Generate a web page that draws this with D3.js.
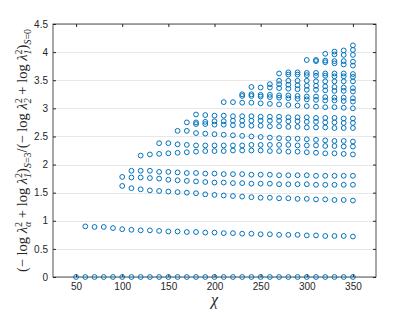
<!DOCTYPE html>
<html>
<head>
<meta charset="utf-8">
<script src="https://cdn.jsdelivr.net/npm/d3@7"></script>
<style>
  body { margin: 0; background: #fff; }
  svg { display: block; }
</style>
</head>
<body>
<svg id="chart" width="415" height="312"></svg>
<script>
// tick labels
var xTicks = [50, 100, 150, 200, 250, 300, 350];
var yTicks = [0, 0.5, 1, 1.5, 2, 2.5, 3, 3.5, 4, 4.5];

// each level: values every 10 in chi, beginning at its start chi
var lev0 = [0,0,0,0,0,0,0,0,0,0,0,0,0,0,0,0,0,0,0,0,0,0,0,0,0,0,0,0,0,0,0];
var lev1 = [0.90,0.89,0.89,0.87,0.85,0.84,0.83,0.83,0.82,0.81,0.81,0.80,0.80,0.79,0.79,
            0.78,0.78,0.77,0.77,0.76,0.76,0.75,0.75,0.75,0.74,0.74,0.73,0.73,0.73,0.72];
var levC = [1.62,1.58,1.56,1.54,1.53,1.52,1.51,1.50,1.49,1.47,1.46,1.45,1.44,1.43,1.42,
            1.41,1.41,1.40,1.40,1.39,1.39,1.38,1.38,1.37,1.37,1.36];
var levB = [1.78,1.77,1.77,1.76,1.75,1.73,1.72,1.71,1.70,1.69,1.68,1.68,1.67,1.67,1.66,
            1.66,1.66,1.65,1.65,1.65,1.65,1.64,1.64,1.64,1.64,1.64];
var levA = [1.89,1.89,1.89,1.87,1.87,1.86,1.85,1.85,1.84,1.84,1.83,1.83,1.83,1.82,1.82,
            1.82,1.81,1.81,1.81,1.81,1.80,1.80,1.80,1.80,1.80];
var levD = [2.16,2.18,2.19,2.20,2.21,2.22,2.23,2.24,2.24,2.24,2.25,2.25,2.25,2.25,2.24,
            2.24,2.23,2.23,2.22,2.21,2.20,2.20,2.19,2.18];
var levE = [2.38,2.38,2.36,2.35,2.34,2.34,2.34,2.34,2.34,2.34,2.35,2.35,2.35,2.35,2.35,
            2.34,2.34,2.34,2.33,2.33,2.32,2.32];
var levG = [2.60,2.60,2.56,2.55,2.54,2.53,2.52,2.51,2.50,2.49,2.48,2.47,2.46,2.46,2.45,
            2.44,2.43,2.42,2.42,2.41];
var levH = [2.75,2.75,2.76,2.77,2.77,2.78,2.78,2.78,2.78,2.78,2.78,2.77,2.77,2.76,2.76,
            2.75,2.75,2.74,2.74];
var levI = [2.72,2.72,2.71,2.71,2.70,2.70,2.69,2.69,2.68,2.68,2.67,2.67,2.66,2.66,2.66,
            2.65,2.65,2.65];
var levJ = [2.89,2.88,2.87,2.87,2.86,2.86,2.86,2.85,2.85,2.85,2.84,2.84,2.84,2.83,2.83,
            2.83,2.82,2.82];
var levK = [3.11,3.11,3.10,3.10,3.09,3.08,3.07,3.06,3.05,3.04,3.03,3.02,3.02,3.01,3.00];
var levL1 = [3.25,3.25,3.24,3.24,3.23,3.23,3.22,3.21,3.21,3.20,3.19,3.19,3.18];
var levL2 = [3.22,3.22,3.21,3.20,3.19,3.18,3.17,3.16,3.15,3.14,3.14,3.13,3.12];
var levM = [3.38,3.37,3.37,3.36,3.35,3.34,3.33,3.33,3.32,3.31,3.31,3.30];
var levN = [3.43,3.43,3.42,3.41,3.40,3.40,3.39,3.38,3.37,3.36];
var levO1 = [3.49,3.49,3.49,3.49,3.48,3.48,3.48,3.48,3.48];
var levO2 = [3.62,3.60,3.60,3.59,3.58,3.58,3.57,3.57,3.56];
var levP = [3.64,3.64,3.63,3.63,3.62,3.62,3.62,3.61];
var levQ = [3.86,3.86,3.85,3.84,3.84,3.83];
var levQ2 = [3.84,3.82,3.80,3.78,3.76];
var levR = [3.97,4.01,4.03,4.04];
var levS = [3.96,3.95,3.95];
var levT = [4.12];

var levels = [
    [50, lev0], [60, lev1], [100, levC], [100, levB], [110, levA], [120, levD],
    [140, levE], [160, levG], [170, levH], [180, levI], [180, levJ], [210, levK],
    [230, levL1], [230, levL2], [240, levM], [260, levN], [270, levO1], [270, levO2],
    [280, levP], [300, levQ], [310, levQ2], [320, levR], [330, levS], [350, levT]
];

var points = [];
levels.forEach(function(l) {
    l[1].forEach(function(v, i) {
        points.push({ chi: l[0] + 10 * i, val: v });
    });
});

var svg = d3.select("#chart");

var mLeft = 53, mTop = 24,
    width = 323,
    height = 253;

var xScale = d3.scaleLinear().domain([25, 375]).range([0, width]),
    yScale = d3.scaleLinear().domain([0, 4.5]).range([height, 0]);

var g = svg.append("g")
           .attr("transform", "translate(" + mLeft + "," + mTop + ")");

// horizontal grid
g.selectAll(".grid")
 .data(yTicks)
 .enter().append("line")
 .attr("x1", 0)
 .attr("x2", width)
 .attr("y1", function(d) { return Math.round(yScale(d)) + 0.5; })
 .attr("y2", function(d) { return Math.round(yScale(d)) + 0.5; })
 .attr("stroke", "#e8e8e8")
 .attr("stroke-width", 1);

function styleAxis(a) {
    a.select(".domain").remove();
    a.selectAll(".tick line").attr("stroke", "#262626");
    a.selectAll("text")
     .attr("fill", "#262626")
     .attr("font-family", "'Liberation Sans', Arial, sans-serif")
     .attr("font-size", "10px");
}

g.append("g")
 .attr("transform", "translate(0," + height + ")")
 .call(d3.axisBottom(xScale).tickValues(xTicks).tickSize(-3).tickPadding(6))
 .call(styleAxis);

g.append("g")
 .call(d3.axisTop(xScale).tickValues(xTicks).tickSize(-3).tickFormat(""))
 .call(styleAxis);

g.append("g")
 .call(d3.axisLeft(yScale).tickValues(yTicks).tickSize(-3).tickPadding(5)
       .tickFormat(function(d) { return "" + d; }))
 .call(styleAxis);

g.append("g")
 .attr("transform", "translate(" + width + ",0)")
 .call(d3.axisRight(yScale).tickValues(yTicks).tickSize(-3).tickFormat(""))
 .call(styleAxis);

g.append("rect")
 .attr("x", 0)
 .attr("y", 0)
 .attr("width", width)
 .attr("height", height)
 .attr("fill", "none")
 .attr("stroke", "#262626")
 .attr("stroke-width", 0.8);

g.selectAll(".dot")
 .data(points)
 .enter().append("circle")
 .attr("class", "dot")
 .attr("cx", function(d) { return xScale(d.chi); })
 .attr("cy", function(d) { return yScale(d.val); })
 .attr("r", 2.4)
 .attr("fill", "none")
 .attr("stroke", "#0072BD")
 .attr("stroke-width", 1);

// x label
svg.append("text")
   .attr("x", mLeft + width / 2)
   .attr("y", 305)
   .attr("text-anchor", "middle")
   .attr("font-family", "'Liberation Serif', 'DejaVu Serif', serif")
   .attr("font-style", "italic")
   .attr("font-size", "16px")
   .attr("fill", "#262626")
   .text("χ");

// y label, built from pieces with sub/superscripts
var ylab = svg.append("text")
   .attr("transform", "translate(27," + (mTop + height / 2) + ") rotate(-90)")
   .attr("text-anchor", "middle")
   .attr("font-family", "'Liberation Serif', 'DejaVu Serif', serif")
   .attr("font-size", "14.5px")
   .attr("fill", "#262626");

var cur = 0;
function piece(str, shift, size, italic, dx) {
    var t = ylab.append("tspan")
        .attr("dy", shift - cur)
        .attr("font-size", size + "px")
        .text(str);
    if (italic) t.attr("font-style", "italic");
    if (dx) t.attr("dx", dx);
    cur = shift;
    return t;
}
function stack(sup, sub) {
    var s = piece(sup, -5, 10, false);
    var w = s.node().getComputedTextLength();
    piece(sub, 3.5, 10, true, -w);
}
piece("(− log ", 0, 14.5);
piece("λ", 0, 14.5, true);
stack("2", "α");
piece(" + log ", 0, 14.5);
piece("λ", 0, 14.5, true);
stack("2", "1");
piece(")", 0, 14.5);
piece("S", 3.5, 10, true);
piece("=3", 3.5, 10);
piece("/(− log ", 0, 14.5);
piece("λ", 0, 14.5, true);
stack("2", "2");
piece(" + log ", 0, 14.5);
piece("λ", 0, 14.5, true);
stack("2", "1");
piece(")", 0, 14.5);
piece("S", 3.5, 10, true);
piece("=0", 3.5, 10);
</script>
</body>
</html>
